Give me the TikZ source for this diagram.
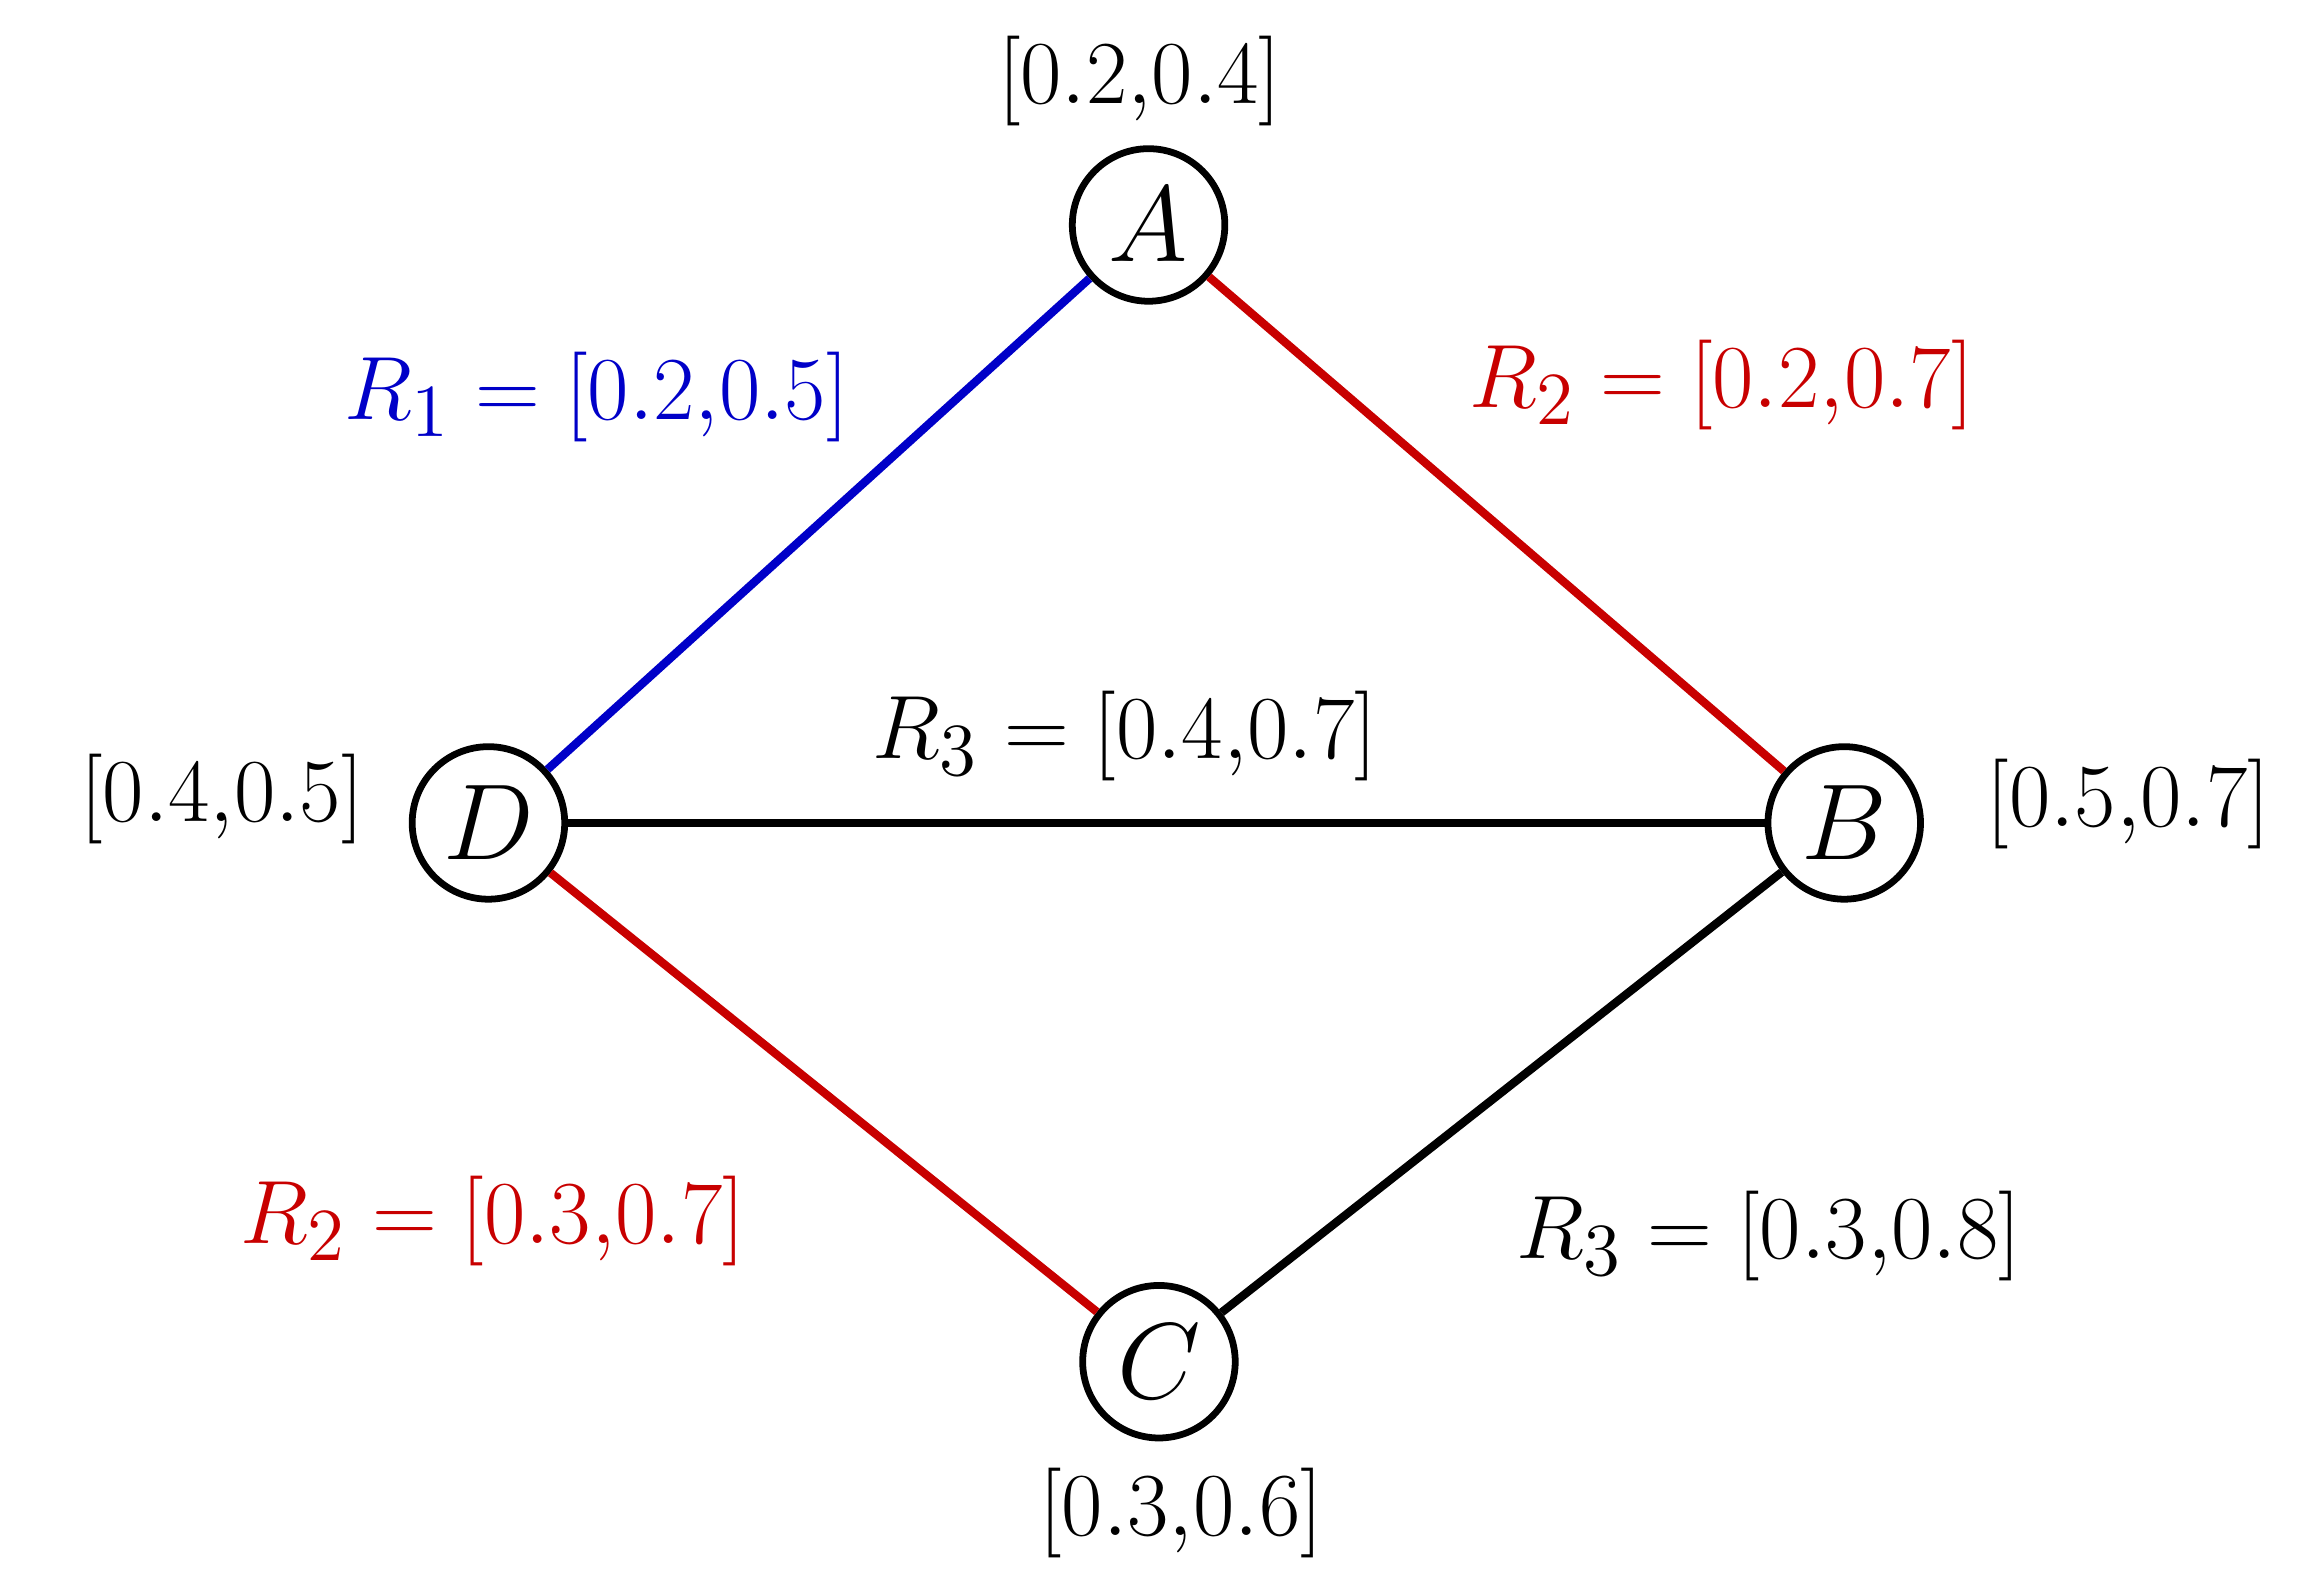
\documentclass[tikz,border=0pt]{standalone}
\usepackage{xcolor}
\definecolor{myblue}{RGB}{0,0,200}
\definecolor{myred}{RGB}{200,0,0}
\begin{document}
\begin{tikzpicture}[x=0.01cm,y=-0.01cm,
  vert/.style={circle,draw,line width=1.3pt,minimum size=1.03cm,inner sep=0pt,font=\fontsize{19.5}{23}\selectfont,fill=white},
  lab/.style={font=\fontsize{19}{23}\selectfont},
  edge/.style={line width=1.6pt}]
\useasboundingbox (0,0) rectangle (1560,1068);
\node[vert] (A) at (776,152) {$A$};
\node[vert] (B) at (1246,556) {$B$};
\node[vert] (C) at (783,920) {$C$};
\node[vert] (D) at (330,556) {$D$};
\draw[edge,myblue] (D) -- (A);
\draw[edge,myred] (A) -- (B);
\draw[edge] (D) -- (B);
\draw[edge,myred] (D) -- (C);
\draw[edge] (C) -- (B);
\node[lab] (la) at (770,55) {$[0.2,\!0.4]$};
\node[lab] (ld) at (150,540) {$[0.4,\!0.5]$};
\node[lab] (lb) at (1438,543) {$[0.5,\!0.7]$};
\node[lab] (lc) at (798,1022) {$[0.3,\!0.6]$};
\node[lab,myblue] (e1) at (403,268) {$R_1=[0.2,\!0.5]$};
\node[lab,myred] (e2) at (1163,260) {$R_2=[0.2,\!0.7]$};
\node[lab] (e3) at (760,497) {$R_3=[0.4,\!0.7]$};
\node[lab,myred] (e4) at (333,825) {$R_2=[0.3,\!0.7]$};
\node[lab] (e5) at (1195,835) {$R_3=[0.3,\!0.8]$};
\end{tikzpicture}
\end{document}
